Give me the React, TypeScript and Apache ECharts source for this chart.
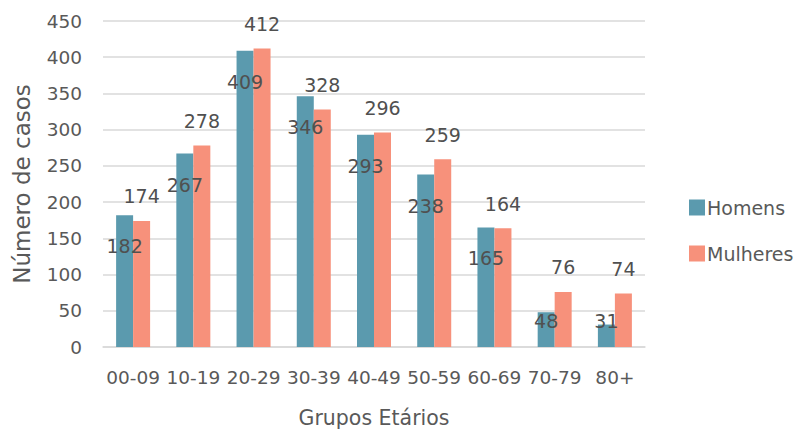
import React, { useEffect, useRef } from "react";
import * as echarts from "echarts";

const categories = ["00-09", "10-19", "20-29", "30-39", "40-49", "50-59", "60-69", "70-79", "80+"];
const homens = [182, 267, 409, 346, 293, 238, 165, 48, 31];
const mulheres = [174, 278, 412, 328, 296, 259, 164, 76, 74];
const seriesNames = ["Homens", "Mulheres"];
const yTicks = { min: 0, max: 450, interval: 50 };

const TEXT = "#595959";
const FONT = "DejaVu Sans";

export default function App() {
  const ref = useRef<HTMLDivElement>(null);
  useEffect(() => {
    document.body.style.margin = "0";
    const chart = echarts.init(ref.current!, null, { renderer: "svg" });
    chart.setOption({
      animation: false,
      textStyle: { fontFamily: FONT, color: TEXT },
      grid: { left: 103, right: 158, top: 21, bottom: 91 },
      legend: {
        orient: "vertical",
        left: 684,
        top: 193,
        itemGap: 27,
        itemWidth: 16,
        itemHeight: 16,
        icon: "rect",
        textStyle: { fontFamily: FONT, fontSize: 19, color: TEXT, padding: [0, 0, 0, -3] },
        data: seriesNames,
      },
      xAxis: {
        type: "category",
        data: categories,
        name: "Grupos Etários",
        nameLocation: "middle",
        nameGap: 60,
        nameTextStyle: { fontFamily: FONT, fontSize: 20.5, color: TEXT },
        axisLine: { lineStyle: { color: "#d9d9d9", width: 1.5 } },
        axisTick: { show: false },
        axisLabel: { fontFamily: FONT, fontSize: 18.5, color: TEXT, margin: 21, interval: 0 },
      },
      yAxis: {
        type: "value",
        min: yTicks.min,
        max: yTicks.max,
        interval: yTicks.interval,
        name: "Número de casos",
        nameLocation: "middle",
        nameGap: 70,
        nameTextStyle: { fontFamily: FONT, fontSize: 23, color: TEXT },
        axisLine: { show: false },
        axisTick: { show: false },
        axisLabel: { fontFamily: FONT, fontSize: 18.5, color: TEXT, margin: 21 },
        splitLine: { lineStyle: { color: "#d9d9d9", width: 1.5 } },
      },
      series: [
        {
          name: seriesNames[0],
          type: "bar",
          data: homens,
          barWidth: 17,
          barGap: "0%",
          itemStyle: { color: "#5B9AAE" },
          label: {
            show: true,
            position: "inside",
            fontFamily: FONT,
            fontSize: 19,
            color: "#505050",
          },
          labelLayout: (params: any) => {
            const r = params.rect;
            const cy = Math.min(r.y + 31, r.y + r.height - 26);
            return { x: r.x + r.width / 2, y: cy, align: "center", verticalAlign: "middle" };
          },
        },
        {
          name: seriesNames[1],
          type: "bar",
          data: mulheres,
          barWidth: 17,
          itemStyle: { color: "#F7917B" },
          label: {
            show: true,
            position: "top",
            distance: 15,
            fontFamily: FONT,
            fontSize: 19,
            color: "#505050",
          },
        },
      ],
    });
    return () => chart.dispose();
  }, []);
  return <div ref={ref} style={{ width: 803, height: 438 }} />;
}
